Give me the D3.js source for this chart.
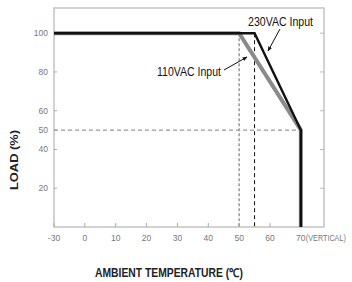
<!DOCTYPE html>
<html>
<head>
<meta charset="utf-8">
<script src="https://cdn.jsdelivr.net/npm/d3@7.9.0/dist/d3.min.js"></script>
<style>
  html, body { margin: 0; padding: 0; background: #fff; }
  svg { display: block; }
  .tick-label { font-family: "Liberation Sans Narrow", "Arial Narrow", "Liberation Sans", sans-serif; font-size: 8.5px; fill: #777; }
  .note { font-family: "Liberation Sans Narrow", "Arial Narrow", "Liberation Sans", sans-serif; font-size: 12.5px; fill: #111; }
  .axis-title { font-family: "Liberation Sans Narrow", "Arial Narrow", "Liberation Sans", sans-serif; font-weight: bold; fill: #222; }
</style>
</head>
<body>
<svg id="chart" width="352" height="282"></svg>
<script>
// derating curve data (ambient temperature in C, load in %)
const tempTicks = [-30, 0, 10, 20, 30, 40, 50, 60, 70];
const loadTicks = [20, 40, 50, 60, 80, 100];
const rightTicks = [20, 40, 60, 80, 100];

const temp110 = [-30, 50, 70, 70];
const load110 = [100, 100, 50, 0];
const temp230 = [-30, 55, 70, 70];
const load230 = [100, 100, 50, 0];

const plotL = 54, plotR = 324, plotT = 8, plotB = 227;

const svg = d3.select("#chart");

// axis is broken between -30 and 0, so -30 sits one step left of 0
const step = (plotR - plotL) / 8.75;
const x = d3.scaleLinear().domain([-30, 0, 77.5]).range([plotL, plotL + step, plotR]);
const y = d3.scaleLinear().domain([0, 113]).range([plotB, plotT]);

// frame
svg.append("rect")
  .attr("x", plotL).attr("y", plotT)
  .attr("width", plotR - plotL).attr("height", plotB - plotT)
  .attr("fill", "none").attr("stroke", "#bbb").attr("stroke-width", 1.3);

// ticks
svg.selectAll(".xt").data(tempTicks).enter().append("line")
  .attr("x1", d => x(d)).attr("x2", d => x(d))
  .attr("y1", plotB).attr("y2", plotB - 4)
  .attr("stroke", "#aaa");
svg.selectAll(".xl").data(tempTicks).enter().append("text")
  .attr("class", "tick-label")
  .attr("x", d => x(d)).attr("y", 241)
  .attr("text-anchor", "middle")
  .text(d => d);
svg.append("text").attr("class", "tick-label")
  .attr("x", x(70) + 5).attr("y", 241)
  .attr("textLength", 40).attr("lengthAdjust", "spacingAndGlyphs")
  .text("(VERTICAL)");

svg.selectAll(".yt").data(loadTicks).enter().append("line")
  .attr("x1", plotL).attr("x2", plotL + 3)
  .attr("y1", d => y(d)).attr("y2", d => y(d))
  .attr("stroke", "#aaa");
svg.selectAll(".yl").data(loadTicks).enter().append("text")
  .attr("class", "tick-label")
  .attr("x", plotL - 6).attr("y", d => y(d) + 3)
  .attr("text-anchor", "end")
  .text(d => d);
svg.selectAll(".rt").data(rightTicks).enter().append("line")
  .attr("x1", plotR).attr("x2", plotR - 4)
  .attr("y1", d => y(d)).attr("y2", d => y(d))
  .attr("stroke", "#bbb");

// guide lines
svg.append("line")
  .attr("x1", x(-30)).attr("x2", x(70))
  .attr("y1", y(50)).attr("y2", y(50))
  .attr("stroke", "#999").attr("stroke-width", 1.2).attr("stroke-dasharray", "4,3");
svg.append("line")
  .attr("x1", x(50)).attr("x2", x(50))
  .attr("y1", y(100)).attr("y2", y(0))
  .attr("stroke", "#999").attr("stroke-width", 1.5).attr("stroke-dasharray", "3,2");
svg.append("line")
  .attr("x1", x(55)).attr("x2", x(55))
  .attr("y1", y(100)).attr("y2", y(0))
  .attr("stroke", "#111").attr("stroke-width", 1).attr("stroke-dasharray", "4,3");

// curves
const line = d3.line().x(d => x(d[0])).y(d => y(d[1]));
svg.append("path")
  .datum(d3.zip(temp110, load110))
  .attr("d", line)
  .attr("fill", "none").attr("stroke", "#8a8a8a").attr("stroke-width", 4);
svg.append("path")
  .datum(d3.zip(temp230, load230))
  .attr("d", line)
  .attr("fill", "none").attr("stroke", "#111").attr("stroke-width", 2.4)
  .attr("stroke-linejoin", "miter");

// annotations
svg.append("defs").append("marker")
  .attr("id", "arr").attr("viewBox", "0 0 10 10")
  .attr("refX", 9).attr("refY", 5)
  .attr("markerWidth", 5).attr("markerHeight", 5)
  .attr("orient", "auto")
  .append("path").attr("d", "M0,1L10,5L0,9z").attr("fill", "#111");

svg.append("text").attr("class", "note")
  .attr("x", 248).attr("y", 26)
  .attr("textLength", 65).attr("lengthAdjust", "spacingAndGlyphs")
  .text("230VAC Input");
svg.append("line")
  .attr("x1", 280).attr("y1", 29).attr("x2", 268).attr("y2", 51)
  .attr("stroke", "#111").attr("stroke-width", 1).attr("marker-end", "url(#arr)");

svg.append("text").attr("class", "note")
  .attr("x", 157).attr("y", 76)
  .attr("textLength", 64).attr("lengthAdjust", "spacingAndGlyphs")
  .text("110VAC Input");
svg.append("line")
  .attr("x1", 224).attr("y1", 70).attr("x2", 247).attr("y2", 57)
  .attr("stroke", "#111").attr("stroke-width", 1).attr("marker-end", "url(#arr)");

// axis titles
svg.append("text").attr("class", "axis-title")
  .attr("transform", "translate(18,160) rotate(-90)")
  .attr("text-anchor", "middle")
  .style("font-size", "10.5px")
  .attr("textLength", 60).attr("lengthAdjust", "spacingAndGlyphs")
  .text("LOAD (%)");
svg.append("text").attr("class", "axis-title")
  .attr("x", 169).attr("y", 277)
  .attr("text-anchor", "middle")
  .style("font-size", "12px")
  .attr("textLength", 148).attr("lengthAdjust", "spacingAndGlyphs")
  .text("AMBIENT TEMPERATURE (℃)");
</script>
</body>
</html>
